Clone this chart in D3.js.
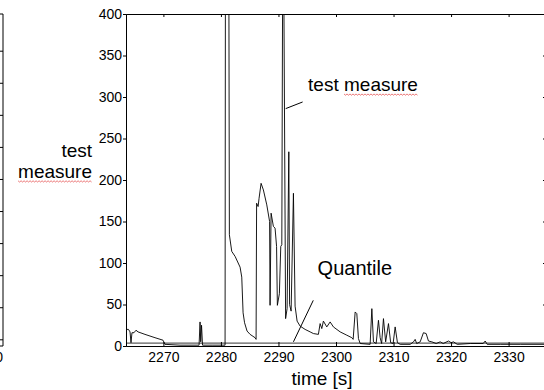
<!DOCTYPE html>
<html>
<head>
<meta charset="utf-8">
<script src="https://cdn.jsdelivr.net/npm/d3@7"></script>
<style>
  body { margin: 0; background: #fff; }
  text { font-family: "Liberation Sans", Arial, sans-serif; fill: #000; }
</style>
</head>
<body>
<script>
const W = 544, H = 390;

// test measure series
const timeS = [2263.62, 2263.93, 2264.2, 2264.37, 2264.54, 2264.89, 2265.24, 2265.59, 2266.8, 2268.54,
  2269.93, 2270.28, 2272.89, 2276.2, 2276.37, 2276.49, 2276.63, 2276.8, 2278.46, 2280.72,
  2280.8, 2281.33, 2281.47, 2281.88, 2282.46, 2283.33, 2283.62, 2283.85, 2284.11, 2284.54,
  2285.07, 2285.93, 2286.11, 2286.2, 2286.46, 2286.63, 2286.98, 2287.38, 2287.97, 2288.46,
  2288.54, 2288.72, 2289.12, 2289.41, 2289.67, 2289.81, 2290.16, 2290.4, 2290.58, 2290.8,
  2291.24, 2291.5, 2291.8, 2291.93, 2292.2, 2292.6, 2292.89, 2293.24, 2293.76, 2294.63,
  2295.5, 2296.07, 2296.94, 2297.24, 2297.53, 2297.81, 2298.4, 2298.98, 2299.55, 2300.72,
  2301.88, 2302.75, 2302.98, 2303.33, 2303.62, 2303.9, 2304.2, 2305.93, 2306.23, 2306.51,
  2306.98, 2307.38, 2307.67, 2307.93, 2308.25, 2308.63, 2309.12, 2309.5, 2309.93, 2310.28,
  2310.68, 2311.15, 2312.89, 2313.47, 2313.76, 2314.02, 2314.63, 2315.2, 2315.67, 2316.07,
  2316.66, 2317.41, 2318.11, 2318.63, 2319.55, 2320.02, 2320.42, 2321.07, 2323.33, 2325.59,
  2325.93, 2326.28, 2328.54, 2332.02, 2336.54];
const measure = [20, 20, 17, 4, 16, 16, 19, 17, 14, 10,
  7, 2, 1, 1, 29, 5, 25, 1, 1, 1,
  600, 600, 134, 114, 108, 95, 83, 40, 28, 18,
  14, 10, 8, 172, 168, 178, 196, 188, 170, 150,
  49, 160, 144, 142, 120, 49, 63, 120, 122, 600,
  33, 45, 234, 50, 42, 184, 48, 30, 24, 20,
  17, 15, 14, 27, 21, 30, 23, 29, 23, 17,
  13, 10, 8, 41, 39, 9, 3, 2, 45, 5,
  3, 31, 10, 3, 33, 5, 27, 4, 3, 23,
  4, 2, 2, 5, 8, 3, 5, 16, 15, 6,
  5, 3, 5, 3, 6, 4, 5, 2, 3, 3,
  6, 2, 2, 2, 2];

// quantile level (nearly flat just above zero)
const quantileTime = [2263.6, 2336.5];
const quantileLevel = [3.5, 3.5];

const xTicks = [2270, 2280, 2290, 2300, 2310, 2320, 2330];
const yTicks = [0, 50, 100, 150, 200, 250, 300, 350, 400];
const leftPanelTicks = [0, 1, 2, 3, 4, 5, 6, 7, 8, 9];

const svg = d3.select("body").append("svg")
  .attr("width", W)
  .attr("height", H);

svg.append("rect").attr("width", W).attr("height", H).attr("fill", "#fff");

const x = d3.scaleLinear().domain([2263.5, 2336.5]).range([126, 546]);
const y = d3.scaleLinear().domain([0, 400]).range([346, 14]);

// remains of the neighbouring panel on the far left
const yLeft = d3.scaleLinear().domain([0, 9]).range([339.3, 50.7]);
svg.append("g")
  .attr("transform", "translate(3,0)")
  .call(d3.axisLeft(yLeft).tickValues(leftPanelTicks).tickSize(3).tickFormat(""))
  .call(g => g.select(".domain").remove());
svg.append("path")
  .attr("d", "M0,14H3V346H0")
  .attr("fill", "none")
  .attr("stroke", "#000");
svg.append("text")
  .attr("x", 3).attr("y", 362)
  .attr("text-anchor", "end")
  .style("font-size", "14px")
  .text("0");

// clip for the data
svg.append("clipPath").attr("id", "plotclip")
  .append("rect")
  .attr("x", x.range()[0]).attr("y", y.range()[1])
  .attr("width", x.range()[1] - x.range()[0])
  .attr("height", y.range()[0] - y.range()[1]);

const plot = svg.append("g").attr("clip-path", "url(#plotclip)");

const line = d3.line().x(d => x(d[0])).y(d => y(d[1]));

plot.append("path")
  .datum(d3.zip(quantileTime, quantileLevel))
  .attr("fill", "none")
  .attr("stroke", "#000")
  .attr("stroke-width", 0.8)
  .attr("d", line);

plot.append("path")
  .datum(d3.zip(timeS, measure))
  .attr("fill", "none")
  .attr("stroke", "#000")
  .attr("stroke-width", 0.9)
  .attr("d", line);

// axes box
const xAxis = svg.append("g")
  .attr("transform", `translate(0,${y(0)})`)
  .call(d3.axisBottom(x).tickValues(xTicks).tickSize(-4).tickPadding(6).tickFormat(d3.format("d")));
const xTop = svg.append("g")
  .attr("transform", `translate(0,${y(400)})`)
  .call(d3.axisTop(x).tickValues(xTicks).tickSize(-3).tickFormat(""));
const yAxis = svg.append("g")
  .attr("transform", `translate(${x.range()[0]},0)`)
  .call(d3.axisLeft(y).tickValues(yTicks).tickSize(3).tickPadding(1));
const yRight = svg.append("g")
  .attr("transform", `translate(${x.range()[1]},0)`)
  .call(d3.axisRight(y).tickValues(yTicks).tickSize(-3).tickFormat(""));

[xAxis, xTop, yAxis, yRight].forEach(g => {
  g.selectAll("text").style("font-size", "14px").attr("fill", "#000");
  g.selectAll("line").attr("stroke", "#000");
  g.select(".domain").attr("stroke", "#000");
});

// axis labels
svg.append("text")
  .attr("x", (x.range()[0] + x.range()[1]) / 2 - 14)
  .attr("y", 385)
  .attr("text-anchor", "middle")
  .style("font-size", "19px")
  .text("time [s]");

const yLabel = svg.append("text")
  .attr("text-anchor", "end")
  .style("font-size", "19px");
yLabel.append("tspan").attr("x", 92).attr("y", 157).text("test");
const yLabel2 = yLabel.append("tspan").attr("x", 92).attr("y", 178).text("measure");

// annotations
const annTest = svg.append("text")
  .attr("x", x(2295.15)).attr("y", y(307))
  .style("font-size", "19px");
annTest.append("tspan").text("test ");
const annTest2 = annTest.append("tspan").text("measure");

svg.append("line")
  .attr("x1", x(2291.25)).attr("y1", y(286))
  .attr("x2", x(2294.2)).attr("y2", y(294))
  .attr("stroke", "#000");

svg.append("text")
  .attr("x", x(2296.8)).attr("y", y(85))
  .style("font-size", "20px")
  .text("Quantile");

svg.append("line")
  .attr("x1", x(2296.05)).attr("y1", y(55))
  .attr("x2", x(2292.6)).attr("y2", y(5))
  .attr("stroke", "#000");

// red spell-check squiggle under "measure"
function squiggle(node) {
  const b = node.getBBox();
  const yb = b.y + b.height - 1;
  const pts = [];
  for (let i = 0; b.x + i * 1.5 <= b.x + b.width; i++) {
    pts.push([b.x + i * 1.5, yb + (i % 2 ? 1 : -0.2)]);
  }
  svg.append("path")
    .attr("d", d3.line()(pts))
    .attr("fill", "none")
    .attr("stroke", "#e03030")
    .attr("stroke-width", 0.8)
    .attr("opacity", 0.8);
}
squiggle(yLabel2.node());
squiggle(annTest2.node());
</script>
</body>
</html>
